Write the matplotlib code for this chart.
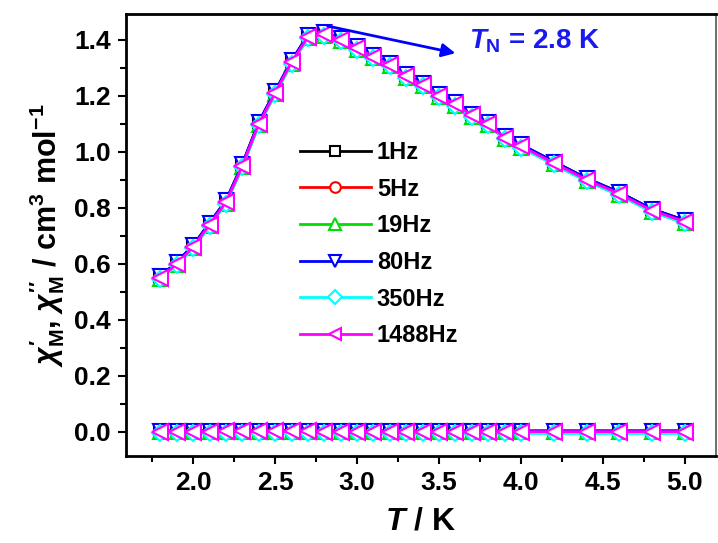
import matplotlib
matplotlib.use("Agg")
import matplotlib.pyplot as plt
from matplotlib.ticker import MultipleLocator

plt.rcParams['font.family'] = ['Liberation Sans', 'DejaVu Sans']
plt.rcParams['font.weight'] = 'bold'
plt.rcParams['mathtext.fontset'] = 'custom'
plt.rcParams['mathtext.rm'] = 'Liberation Sans:bold'
plt.rcParams['mathtext.bf'] = 'Liberation Sans:bold'
plt.rcParams['mathtext.it'] = 'Liberation Sans:italic:bold'
plt.rcParams['mathtext.sf'] = 'Liberation Sans:bold'

T = [1.8, 1.9, 2.0, 2.1, 2.2, 2.3, 2.4, 2.5, 2.6, 2.7, 2.8, 2.9, 3.0, 3.1,
     3.2, 3.3, 3.4, 3.5, 3.6, 3.7, 3.8, 3.9, 4.0, 4.2, 4.4, 4.6, 4.8, 5.0]

labels = ['1Hz', '5Hz', '19Hz', '80Hz', '350Hz', '1488Hz']
colors = ['black', 'red', '#00DD00', 'blue', 'cyan', 'magenta']
markers = ['s', 'o', '^', 'v', 'D', '<']

chi1_1 = [0.555, 0.605, 0.665, 0.745, 0.825, 0.955, 1.105, 1.215, 1.325, 1.415, 1.425, 1.405, 1.375, 1.345,
          1.315, 1.275, 1.245, 1.205, 1.175, 1.135, 1.105, 1.055, 1.025, 0.965, 0.905, 0.855, 0.795, 0.755]
chi1_5 = [0.553, 0.603, 0.663, 0.743, 0.823, 0.953, 1.103, 1.213, 1.323, 1.413, 1.423, 1.403, 1.373, 1.343,
          1.313, 1.273, 1.243, 1.203, 1.173, 1.133, 1.103, 1.053, 1.023, 0.963, 0.903, 0.853, 0.793, 0.753]
chi1_19 = [0.545, 0.595, 0.655, 0.735, 0.815, 0.945, 1.095, 1.205, 1.315, 1.405, 1.415, 1.395, 1.365, 1.335,
           1.305, 1.265, 1.235, 1.195, 1.165, 1.125, 1.095, 1.045, 1.015, 0.955, 0.895, 0.845, 0.785, 0.745]
chi1_80 = [0.556, 0.606, 0.666, 0.746, 0.826, 0.956, 1.106, 1.216, 1.326, 1.416, 1.426, 1.406, 1.376, 1.346,
           1.316, 1.276, 1.246, 1.206, 1.176, 1.136, 1.106, 1.056, 1.026, 0.965, 0.905, 0.855, 0.795, 0.755]
chi1_350 = [0.545, 0.595, 0.655, 0.735, 0.815, 0.945, 1.095, 1.205, 1.315, 1.405, 1.415, 1.395, 1.365, 1.335,
            1.305, 1.265, 1.235, 1.195, 1.165, 1.125, 1.095, 1.045, 1.015, 0.955, 0.895, 0.845, 0.785, 0.745]
chi1_1488 = [0.55, 0.60, 0.66, 0.74, 0.82, 0.95, 1.10, 1.21, 1.32, 1.41, 1.42, 1.40, 1.37, 1.34,
             1.31, 1.27, 1.24, 1.20, 1.17, 1.13, 1.10, 1.05, 1.02, 0.96, 0.90, 0.85, 0.79, 0.75]

chi2_1 = [0.002, 0.002, 0.002, 0.002, 0.003, 0.003, 0.003, 0.003, 0.003, 0.003, 0.002, 0.002, 0.002, 0.002,
          0.002, 0.002, 0.002, 0.002, 0.002, 0.002, 0.002, 0.002, 0.002, 0.002, 0.002, 0.002, 0.002, 0.002]
chi2_5 = [0.001, 0.001, 0.001, 0.001, 0.002, 0.002, 0.002, 0.002, 0.002, 0.002, 0.001, 0.001, 0.001, 0.001,
          0.001, 0.001, 0.001, 0.001, 0.001, 0.001, 0.001, 0.001, 0.001, 0.001, 0.001, 0.001, 0.001, 0.001]
chi2_19 = [-0.003, -0.003, -0.003, -0.003, -0.002, -0.002, -0.002, -0.002, -0.002, -0.002, -0.003, -0.003, -0.003, -0.003,
           -0.003, -0.003, -0.003, -0.003, -0.003, -0.003, -0.003, -0.003, -0.003, -0.003, -0.003, -0.003, -0.003, -0.003]
chi2_80 = [0.003, 0.003, 0.003, 0.003, 0.004, 0.004, 0.004, 0.004, 0.004, 0.004, 0.003, 0.003, 0.003, 0.003,
           0.003, 0.003, 0.003, 0.003, 0.003, 0.003, 0.003, 0.003, 0.003, 0.003, 0.003, 0.003, 0.003, 0.003]
chi2_350 = [-0.004, -0.004, -0.004, -0.004, -0.004, -0.004, -0.004, -0.004, -0.004, -0.004, -0.004, -0.004, -0.004, -0.004,
            -0.004, -0.004, -0.004, -0.004, -0.004, -0.004, -0.004, -0.004, -0.004, -0.004, -0.004, -0.004, -0.004, -0.004]
chi2_1488 = [0.000, 0.000, 0.000, 0.000, 0.001, 0.001, 0.001, 0.001, 0.001, 0.001, 0.000, 0.000, 0.000, 0.000,
             0.000, 0.000, 0.000, 0.000, 0.000, 0.000, 0.000, 0.000, 0.000, 0.000, 0.000, 0.000, 0.000, 0.000]

chi1 = [chi1_1, chi1_5, chi1_19, chi1_80, chi1_350, chi1_1488]
chi2 = [chi2_1, chi2_5, chi2_19, chi2_80, chi2_350, chi2_1488]

fig = plt.figure(figsize=(7.18, 5.43), dpi=100)
ax = fig.add_axes([0.1755, 0.1602, 0.8217, 0.814])

sizes = {'s': 8, 'o': 9, '^': 10, 'v': 10, 'D': 8, '<': 11}
handles = []
for c1, c2, lab, col, mk in zip(chi1, chi2, labels, colors, markers):
    ms = sizes[mk]
    h, = ax.plot(T, c1, color=col, marker=mk, ms=ms, mfc='white', mec=col,
                 mew=1.5, lw=2, label=lab)
    ax.plot(T, c2, color=col, marker=mk, ms=ms, mfc='white', mec=col,
            mew=1.5, lw=2)
    handles.append(h)

ax.set_xlim(1.59, 5.19)
ax.set_ylim(-0.087, 1.492)
ax.xaxis.set_major_locator(MultipleLocator(0.5))
ax.xaxis.set_minor_locator(MultipleLocator(0.25))
ax.yaxis.set_major_locator(MultipleLocator(0.2))
ax.yaxis.set_minor_locator(MultipleLocator(0.1))
ax.tick_params(which='both', direction='out', top=False, right=False, width=1.5)
ax.tick_params(which='major', length=6, labelsize=19, pad=5)
ax.tick_params(which='minor', length=4)
for lab in ax.get_xticklabels() + ax.get_yticklabels():
    lab.set_fontweight('bold')
for s in ['left', 'bottom', 'top']:
    ax.spines[s].set_linewidth(2)
ax.spines['right'].set_linewidth(1.2)
ax.spines['right'].set_color('#555555')

ax.set_xlabel(r"$T$ / K", fontsize=23, fontweight='bold', labelpad=8)
ax.set_ylabel(r"$\chi_{\mathrm{M}}^{\prime}$, $\chi_{\mathrm{M}}^{\prime\prime}$ / cm$^{3}$ mol$^{-1}$",
              fontsize=22, fontweight='bold', labelpad=5)

leg = ax.legend(handles=handles, loc='upper left', bbox_to_anchor=(0.295, 0.713),
                frameon=False, fontsize=17, handlelength=3.0, markerscale=0.85,
                labelspacing=0.58, handletextpad=0.25, borderpad=0, borderaxespad=0)
for t in leg.get_texts():
    t.set_fontweight('bold')

ax.annotate('', xy=(3.60, 1.352), xytext=(2.82, 1.449),
            arrowprops=dict(arrowstyle='-|>', color='blue', lw=2, mutation_scale=20,
                            shrinkA=0, shrinkB=0))
ax.text(3.68, 1.37, r"$T_{\mathrm{N}}$ = 2.8 K", color='#1a1aee', fontsize=20,
        fontweight='bold', va='baseline', ha='left')

fig.savefig('out.png', dpi=100)
